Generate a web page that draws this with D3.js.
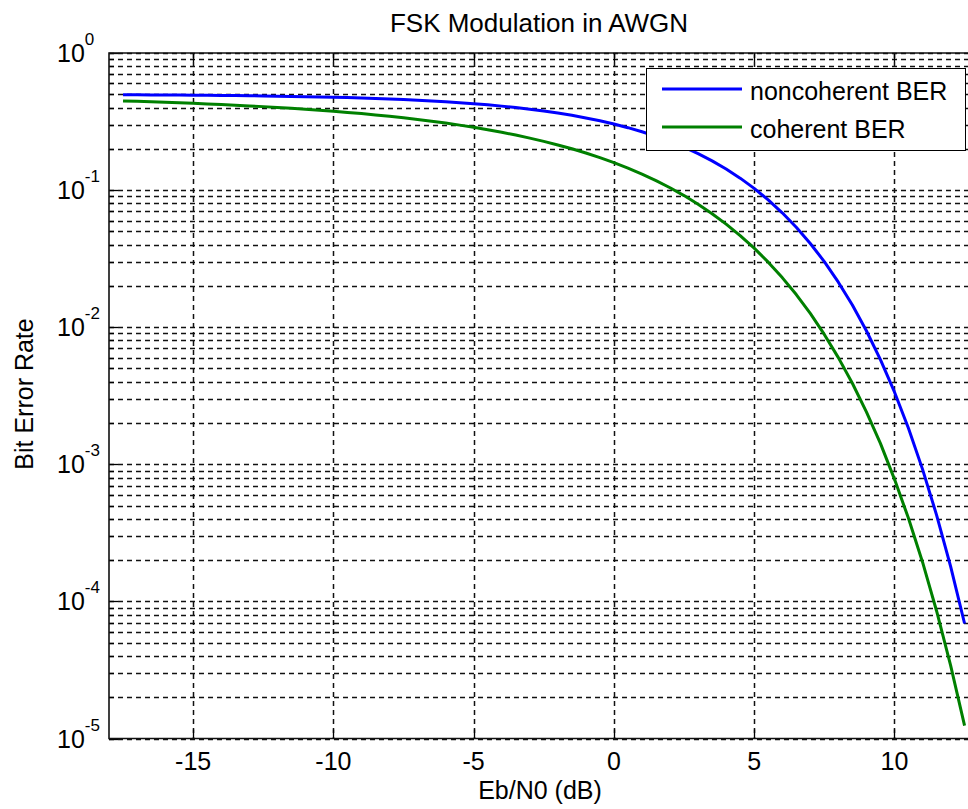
<!DOCTYPE html>
<html>
<head>
<meta charset="utf-8">
<script src="https://cdn.jsdelivr.net/npm/d3@7"></script>
<style>
  body { margin: 0; background: #fff; }
  text { font-family: "Liberation Sans", Arial, sans-serif; fill: #000; }
</style>
</head>
<body>
<div id="chart-container"></div>
<script>
// Eb/N0 samples (dB)
const ebn0 = [-17.5, -17, -16.5, -16, -15.5, -15, -14.5, -14, -13.5, -13, -12.5, -12, -11.5, -11, -10.5, -10,
  -9.5, -9, -8.5, -8, -7.5, -7, -6.5, -6, -5.5, -5, -4.5, -4, -3.5, -3, -2.5, -2, -1.5, -1, -0.5, 0,
  0.5, 1, 1.5, 2, 2.5, 3, 3.5, 4, 4.5, 5, 5.5, 6, 6.5, 7, 7.5, 8, 8.5, 9, 9.5, 10, 10.5, 11, 11.5, 12, 12.5];

const berNoncoherent = [0.4956, 0.4950, 0.4944, 0.4938, 0.4930, 0.4922, 0.4912, 0.4901, 0.4890, 0.4876, 0.4861, 0.4845,
  0.4826, 0.4805, 0.4782, 0.4756, 0.4727, 0.4695, 0.4659, 0.4619, 0.4575, 0.4525, 0.4470, 0.4410, 0.4343, 0.4269,
  0.4187, 0.4097, 0.3999, 0.3891, 0.3774, 0.3647, 0.3509, 0.3361, 0.3203, 0.3033, 0.2853, 0.2664, 0.2467, 0.2264,
  0.2055, 0.1844, 0.1633, 0.1424, 0.1222, 0.1029, 0.0848, 0.0683, 0.0536, 0.0408, 0.0301, 0.0213, 0.0145, 0.00942,
  0.00580, 0.00337, 0.00183, 0.000922, 0.000428, 0.000181, 0.0000690];

const berCoherent = [0.4470, 0.4438, 0.4405, 0.4370, 0.4333, 0.4294, 0.4253, 0.4209, 0.4163, 0.4114, 0.4063, 0.4008,
  0.3951, 0.3890, 0.3826, 0.3759, 0.3688, 0.3613, 0.3535, 0.3453, 0.3366, 0.3276, 0.3180, 0.3081, 0.2978, 0.2870,
  0.2757, 0.2640, 0.2520, 0.2395, 0.2267, 0.2135, 0.2001, 0.1864, 0.1726, 0.1587, 0.1447, 0.1309, 0.1173, 0.1040,
  0.0912, 0.0789, 0.0673, 0.0565, 0.0466, 0.0377, 0.0298, 0.0230, 0.0173, 0.0126, 0.00886, 0.00600, 0.00390, 0.00241,
  0.00142, 0.00078, 0.000404, 0.000194, 0.0000855, 0.0000343, 0.0000124];

const seriesNames = ["noncoherent BER", "coherent BER"];
const seriesColors = ["#0000ff", "#008000"];
const xTicks = [-15, -10, -5, 0, 5, 10];
const yExponents = [0, -1, -2, -3, -4, -5];

const chart = {
  width: 968,
  height: 809,
  margin: { top: 53, left: 109 },
  plotBottom: 738.5,
  plotRight: 978.6,
  scale: {
    x: d3.scaleLinear(),
    y: d3.scaleLog()
  }
};

function drawChart() {
  chart.scale.x.domain([-18, 13]).range([chart.margin.left, chart.plotRight]);
  chart.scale.y.domain([1e-5, 1]).range([chart.plotBottom, chart.margin.top]);
  const x = chart.scale.x, y = chart.scale.y;

  const svg = d3.select("#chart-container").append("svg")
    .attr("width", chart.width).attr("height", chart.height);

  // minor + major horizontal grid values
  let yGrid = [];
  yExponents.forEach(function (e) {
    if (e === 0) return;
    for (let m = 1; m <= 9; m++) yGrid.push(m * Math.pow(10, e));
  });
  yGrid.push(1);

  const grid = svg.append("g").attr("id", "grid")
    .attr("stroke", "#111").attr("stroke-width", 1.5).attr("stroke-dasharray", "5,4");
  grid.selectAll(".hgrid").data(yGrid).enter().append("line")
    .attr("x1", chart.margin.left).attr("x2", chart.width)
    .attr("y1", d => Math.round(y(d)) + 0.5).attr("y2", d => Math.round(y(d)) + 0.5);
  grid.selectAll(".vgrid").data(xTicks).enter().append("line")
    .attr("x1", d => Math.round(x(d)) + 0.5).attr("x2", d => Math.round(x(d)) + 0.5)
    .attr("y1", chart.margin.top).attr("y2", chart.plotBottom);

  // ticks (inward)
  const ticks = svg.append("g").attr("id", "ticks").attr("stroke", "#000").attr("stroke-width", 1.3);
  ticks.selectAll(".xtick-b").data(xTicks).enter().append("line")
    .attr("x1", d => Math.round(x(d)) + 0.5).attr("x2", d => Math.round(x(d)) + 0.5)
    .attr("y1", chart.plotBottom).attr("y2", chart.plotBottom - 9);
  ticks.selectAll(".xtick-t").data(xTicks).enter().append("line")
    .attr("x1", d => Math.round(x(d)) + 0.5).attr("x2", d => Math.round(x(d)) + 0.5)
    .attr("y1", chart.margin.top).attr("y2", chart.margin.top + 9);
  ticks.selectAll(".ytick").data(yGrid).enter().append("line")
    .attr("x1", chart.margin.left)
    .attr("x2", d => chart.margin.left + (Math.abs(Math.log10(d) - Math.round(Math.log10(d))) < 1e-9 ? 9 : 5))
    .attr("y1", d => Math.round(y(d)) + 0.5).attr("y2", d => Math.round(y(d)) + 0.5);

  // curves
  const line = d3.line().x(d => x(d[0])).y(d => y(d[1]));
  [berNoncoherent, berCoherent].forEach(function (ber, i) {
    svg.append("path")
      .datum(ebn0.map((v, j) => [v, ber[j]]))
      .attr("d", line)
      .attr("fill", "none")
      .attr("stroke", seriesColors[i])
      .attr("stroke-width", 3)
      .attr("stroke-linejoin", "round");
  });

  // axes box
  svg.append("path")
    .attr("d", "M" + chart.width + "," + chart.margin.top + "H" + chart.margin.left + "V" + chart.plotBottom + "H" + chart.width)
    .attr("fill", "none").attr("stroke", "#111").attr("stroke-width", 1.6);

  // tick labels
  svg.append("g").selectAll(".xlabel").data(xTicks).enter().append("text")
    .attr("x", d => x(d)).attr("y", 770)
    .attr("text-anchor", "middle").style("font-size", "25px")
    .text(d => d);

  const ylab = svg.append("g").selectAll(".ylabel").data(yExponents).enter().append("text")
    .attr("x", 57).attr("y", e => y(Math.pow(10, e)) + 9)
    .style("font-size", "25px");
  ylab.append("tspan").text("10");
  ylab.append("tspan").attr("dy", -17).style("font-size", "17px").text(e => e);

  // titles
  svg.append("text").attr("x", 539).attr("y", 32).attr("text-anchor", "middle")
    .style("font-size", "26px").text("FSK Modulation in AWGN");
  svg.append("text").attr("x", 540).attr("y", 799).attr("text-anchor", "middle")
    .style("font-size", "25px").text("Eb/N0 (dB)");
  svg.append("text").attr("transform", "translate(33,394) rotate(-90)").attr("text-anchor", "middle")
    .style("font-size", "25px").text("Bit Error Rate");

  // legend
  const legend = svg.append("g").attr("id", "legend");
  legend.append("rect").attr("x", 646.5).attr("y", 68.5).attr("width", 319).attr("height", 82)
    .attr("fill", "#fff").attr("stroke", "#000").attr("stroke-width", 1);
  seriesNames.forEach(function (name, i) {
    const ly = 89 + i * 38;
    legend.append("line").attr("x1", 662).attr("x2", 742).attr("y1", ly).attr("y2", ly)
      .attr("stroke", seriesColors[i]).attr("stroke-width", 3);
    legend.append("text").attr("x", 750).attr("y", ly + 11)
      .style("font-size", "25px").text(name);
  });
}

drawChart();
</script>
</body>
</html>
